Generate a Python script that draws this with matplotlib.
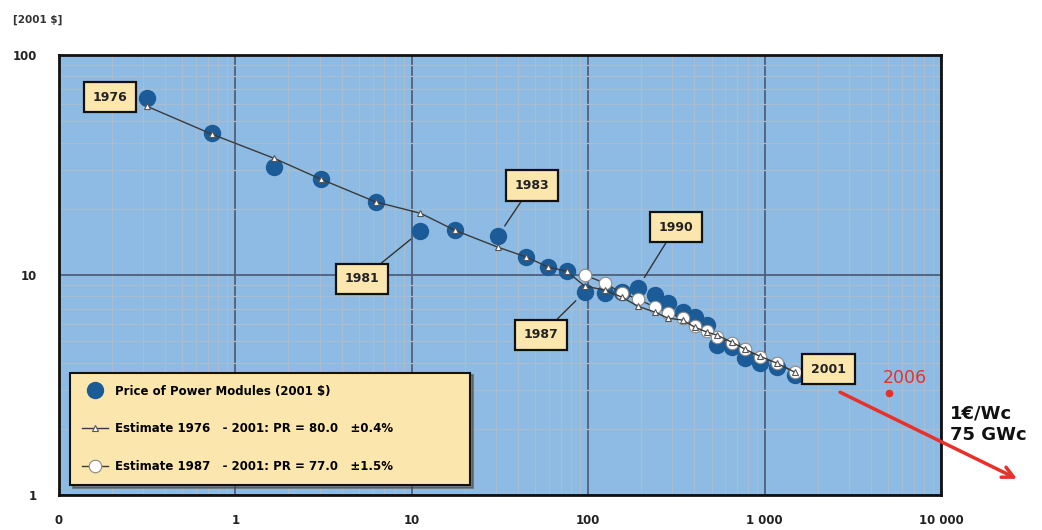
import matplotlib.pyplot as plt
import matplotlib.ticker as mticker
import numpy as np

# Cumulative production (MWp) and module price (2001 $/Wp)
cum_mw = [0.314, 0.736, 1.65, 3.05, 6.25, 11.2, 17.5, 30.7, 44.3, 59, 75.5,
          95.5, 124, 155, 191, 238, 282, 343, 401, 469, 535, 650, 771, 937, 1170, 1479]
price = [63.6, 44.2, 31.0, 27.3, 21.5, 15.8, 16.0, 15.0, 12.1, 10.9, 10.4,
         8.37, 8.28, 8.37, 8.73, 8.11, 7.46, 6.79, 6.44, 5.93, 4.81, 4.71, 4.20, 3.98, 3.82, 3.51]

# Experience curve fitted 1976-2001
est76 = [58.6, 43.7, 34.0, 27.3, 21.5, 19.1, 16.0, 13.4, 12.1, 10.9, 10.4,
         8.91, 8.55, 7.94, 7.22, 6.79, 6.38, 6.24, 5.80, 5.51, 5.34, 4.96, 4.61, 4.28, 3.98, 3.62]

# Experience curve fitted 1987-2001
cum_mw_87 = cum_mw[11:]
est87 = [10.0, 9.2, 8.28, 7.78, 7.16, 6.72, 6.38, 5.86, 5.56, 5.22, 4.91, 4.61, 4.24, 3.98, 3.62]

# Year call-outs: (label, point index, box position, leader line)
years = [("1976", 0, (0.195, 64.4), False), ("1981", 5, (5.2, 9.6), True),
         ("1983", 7, (48, 25.6), True), ("1987", 11, (54, 5.34), True),
         ("1990", 14, (313, 16.5), True), ("2001", 25, (2306, 3.74), False)]

point_2006 = (5046, 2.91)
outlook_start = (2594, 2.97)
outlook_end = (27860, 1.17)
xticks = [0.1, 1, 10, 100, 1000, 10000]
xtick_labels = ["0", "1", "10", "100", "1 000", "10 000"]
yticks = [1, 10, 100]
ytick_labels = ["1", "10", "100"]

blue = "#1b5b97"
cream = "#fbe7ae"

fig = plt.figure(figsize=(10.42, 5.30), dpi=100)
ax = fig.add_axes([0.0566, 0.066, 0.8465, 0.830])
ax.set_facecolor("#8dbbe3")
ax.set_xscale("log")
ax.set_yscale("log")
ax.set_xlim(0.1, 10000)
ax.set_ylim(1, 100)

ax.xaxis.set_minor_locator(mticker.LogLocator(base=10, subs=np.arange(2, 10)))
ax.yaxis.set_minor_locator(mticker.LogLocator(base=10, subs=np.arange(2, 10)))
ax.xaxis.set_minor_formatter(mticker.NullFormatter())
ax.yaxis.set_minor_formatter(mticker.NullFormatter())
ax.grid(which="minor", color="#a9bdd2", lw=0.9)
ax.grid(which="major", color="#4f5f77", lw=1.3)
ax.set_axisbelow(True)

ax.set_xticks(xticks)
ax.set_xticklabels(xtick_labels)
ax.set_yticks(yticks)
ax.set_yticklabels(ytick_labels)
ax.tick_params(which="both", length=0)
ax.tick_params(axis="x", pad=14)
ax.tick_params(axis="y", pad=16)
for lab in ax.get_xticklabels() + ax.get_yticklabels():
    lab.set_fontweight("bold")
    lab.set_fontsize(8.5)
    lab.set_color("#222222")
for s in ax.spines.values():
    s.set_linewidth(2)
    s.set_color("#111111")

ax.plot(cum_mw, price, "o", color=blue, ms=11.5, mec=blue, zorder=3,
        label="Price of Power Modules (2001 $)")
ax.plot(cum_mw, est76, "-^", color="#3a3a3a", lw=1, ms=5, mfc="white", mec="#555555",
        mew=0.8, zorder=5, label="Estimate 1976   - 2001: PR = 80.0   \u00b10.4%")
ax.plot(cum_mw_87, est87, "-o", color="#3a3a3a", lw=1, ms=9, mfc="white", mec="#8a8a8a",
        mew=0.8, zorder=4, label="Estimate 1987   - 2001: PR = 77.0   \u00b11.5%")

for name, i, pos, leader in years:
    arrow = dict(arrowstyle="-", color="#333333", lw=1, shrinkA=0, shrinkB=9) if leader else None
    ax.annotate(name, xy=(cum_mw[i], price[i]), xytext=pos,
                ha="center", va="center", fontsize=9, fontweight="bold", color="#222222",
                bbox=dict(boxstyle="square,pad=0.7", fc=cream, ec="#111111", lw=1.6),
                arrowprops=arrow, zorder=6)

leg = ax.legend(loc="lower left", bbox_to_anchor=(0.0125, 0.023, 0.4535, 0.26), mode="expand",
                borderaxespad=0, frameon=True, fancybox=False, shadow=True, labelspacing=2.1,
                handlelength=2.2, handletextpad=0.6, borderpad=1.0,
                prop={"weight": "bold", "size": 8.5})
leg.get_frame().set_facecolor(cream)
leg.get_frame().set_edgecolor("#111111")
leg.get_frame().set_linewidth(1.5)
leg.get_frame().set_alpha(1)

# 2006 point and outlook arrow
ax.plot(*point_2006, "o", color="#e8312a", ms=4.5, zorder=6)
ax.text(6209, 3.40, "2006", color="#e8312a", fontsize=12.5, ha="center", va="center")
ax.annotate("", xy=outlook_end, xytext=outlook_start, annotation_clip=False,
            arrowprops=dict(arrowstyle="->,head_length=0.8,head_width=0.4", color="#e8312a", lw=2.5))

fig.text(0.912, 0.200, "1\u20ac/Wc\n75 GWc", fontsize=13, fontweight="bold", color="#111111",
         ha="left", va="center", linespacing=1.25)
fig.text(0.012, 0.962, "[2001 $]", fontsize=7.5, fontweight="bold", color="#333333",
         ha="left", va="center")

fig.savefig("out.png", dpi=100)
